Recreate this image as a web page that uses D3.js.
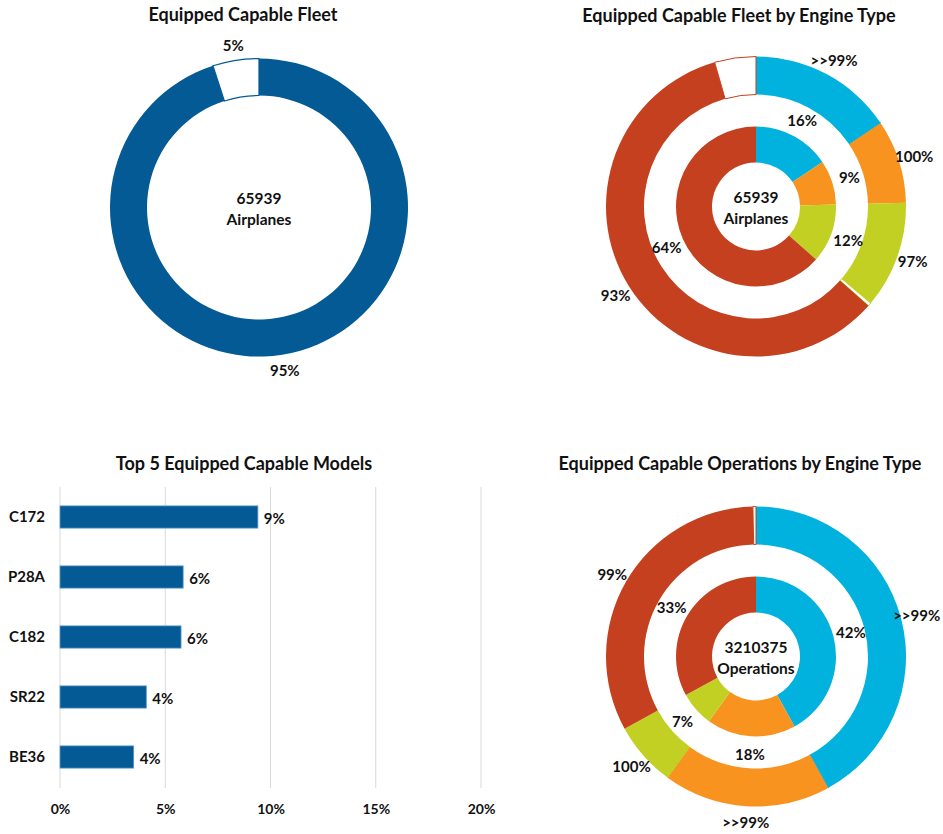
<!DOCTYPE html>
<html><head><meta charset="utf-8">
<script src="https://cdn.jsdelivr.net/npm/d3@7"></script>
<style>
html,body{margin:0;padding:0;background:#fff;}
svg{display:block;font-family:Lato,"Open Sans",sans-serif;font-weight:bold;}
</style></head>
<body>
<svg id="chart" width="943" height="834"></svg>
<script>
// ---- data ----
const fleetTotal = 65939;
const fleetCategories = ["Equipped", "Not equipped"];
const fleetShares = [95, 5];

const engineTypes = ["Type A", "Type B", "Type C", "Type D"];
const engineColors = ["#00b2dd", "#f7931e", "#c2d024", "#c5401e"];

const fleetTypeShares = [15.6, 9.0, 11.9, 63.5];
const fleetTypeEquipped = [99.9, 100, 97, 93];
const fleetTypeEquippedLabels = [">>99%", "100%", "97%", "93%"];

const opsTotal = 3210375;
const opsTypeShares = [42, 18, 7, 33];
const opsTypeEquipped = [99.9, 99.9, 100, 99];
const opsTypeEquippedLabels = [">>99%", ">>99%", "100%", "99%"];

const models = ["C172", "P28A", "C182", "SR22", "BE36"];
const modelShares = [9.4, 5.85, 5.75, 4.1, 3.5];
const modelTicks = [0, 0.05, 0.10, 0.15, 0.20];

// ---- drawing ----
const svg = d3.select("#chart");
const BLUE = "#035a94";

function title(x, y, t) {
  svg.append("text").attr("x", x).attr("y", y).attr("text-anchor", "middle")
    .attr("dominant-baseline", "central").attr("font-size", 18).attr("fill", "#111").text(t);
}
function label(g, x, y, t, size) {
  g.append("text").attr("x", x).attr("y", y).attr("text-anchor", "middle")
    .attr("dominant-baseline", "central").attr("font-size", size || 15).attr("fill", "#111").text(t);
}
function centerText(g, l1, l2) {
  label(g, 0, -10, l1, 15.5);
  label(g, 0, 11, l2, 15.5);
}
const pie = d3.pie().sort(null).value(d => d.v);
function polar(a, r) { return [Math.sin(a) * r, -Math.cos(a) * r]; }

// Panel 1
(function () {
  const g = svg.append("g").attr("transform", "translate(259,207.5)");
  const arc = d3.arc().innerRadius(112).outerRadius(149);
  const arcs = pie(fleetCategories.map((c, i) => ({ c, v: fleetShares[i], i })));
  g.selectAll("path").data(arcs).join("path").attr("d", arc)
    .attr("fill", d => d.data.i === 0 ? BLUE : "#fff")
    .attr("stroke", BLUE).attr("stroke-width", d => d.data.i === 0 ? 0 : 1.2);
  arcs.forEach(d => {
    const p = polar((d.startAngle + d.endAngle) / 2, 165);
    label(g, p[0], p[1], d.data.v + "%");
  });
  centerText(g, String(fleetTotal), "Airplanes");
  title(243, 14, "Equipped Capable Fleet");
})();

function nested(cx, cy, shares, equipped, eqLabels, total, unit) {
  const g = svg.append("g").attr("transform", `translate(${cx},${cy})`);
  const inner = d3.arc().innerRadius(44).outerRadius(80);
  const outer = d3.arc().innerRadius(112).outerRadius(150);
  const inArcs = pie(engineTypes.map((t, i) => ({ t, v: shares[i], i })));
  g.append("g").selectAll("path").data(inArcs).join("path").attr("d", inner)
    .attr("fill", d => engineColors[d.data.i]);
  const outData = [];
  engineTypes.forEach((t, i) => {
    outData.push({ t, i, eq: true, v: shares[i] * equipped[i] / 100 });
    outData.push({ t, i, eq: false, v: shares[i] * (100 - equipped[i]) / 100 });
  });
  const outArcs = pie(outData);
  g.append("g").selectAll("path").data(outArcs.filter(d => d.data.v > 0)).join("path").attr("d", outer)
    .attr("fill", d => d.data.eq ? engineColors[d.data.i] : "#fff")
    .attr("stroke", d => d.data.eq ? "none" : engineColors[d.data.i])
    .attr("stroke-width", 1);
  inArcs.forEach(d => {
    const p = polar((d.startAngle + d.endAngle) / 2, 98);
    label(g, p[0], p[1], Math.round(d.data.v) + "%");
  });
  outArcs.filter(d => d.data.eq).forEach(d => {
    const p = polar((d.startAngle + d.endAngle) / 2, 166);
    label(g, p[0], p[1], eqLabels[d.data.i]);
  });
  centerText(g, String(total), unit);
}

nested(756, 206.5, fleetTypeShares, fleetTypeEquipped, fleetTypeEquippedLabels, fleetTotal, "Airplanes");
title(739, 15, "Equipped Capable Fleet by Engine Type");

nested(756, 656.5, opsTypeShares, opsTypeEquipped, opsTypeEquippedLabels, opsTotal, "Operations");
title(740, 463, "Equipped Capable Operations by Engine Type");

// Panel 3: bars
(function () {
  title(244, 463, "Top 5 Equipped Capable Models");
  const x = d3.scaleLinear().domain([0, 0.20]).range([60, 481]);
  const y = d3.scaleBand().domain(models).range([487, 787]).paddingInner(0.63).paddingOuter(0.315);
  const g = svg.append("g");
  g.selectAll("line.grid").data(modelTicks).join("line").attr("class", "grid")
    .attr("x1", d => x(d)).attr("x2", d => x(d)).attr("y1", 487).attr("y2", 788)
    .attr("stroke", "#d9d9d9").attr("stroke-width", 1);
  const axis = d3.axisBottom(x).tickValues(modelTicks).tickFormat(d3.format(".0%")).tickSize(0).tickPadding(0);
  const ax = g.append("g").attr("transform", "translate(0,808)").call(axis);
  ax.select(".domain").remove();
  ax.selectAll("text").attr("font-size", 14).attr("font-family", "Lato,'Open Sans',sans-serif")
    .attr("font-weight", "bold").attr("fill", "#111").attr("dy", null).attr("dominant-baseline", "central");
  const yAxis = d3.axisLeft(y).tickSize(0).tickPadding(0);
  const ay = g.append("g").attr("transform", "translate(45,0)").call(yAxis);
  ay.select(".domain").remove();
  ay.selectAll("text").attr("font-size", 15).attr("font-family", "Lato,'Open Sans',sans-serif")
    .attr("font-weight", "bold").attr("fill", "#111");
  const data = models.map((m, i) => ({ m, v: modelShares[i] / 100 }));
  g.selectAll("rect").data(data).join("rect")
    .attr("x", x(0)).attr("y", d => y(d.m)).attr("width", d => x(d.v) - x(0)).attr("height", y.bandwidth())
    .attr("fill", BLUE).attr("stroke", "#5a98cc").attr("stroke-width", 0.8);
  g.selectAll("text.val").data(data).join("text").attr("class", "val")
    .attr("x", d => x(d.v) + 6).attr("y", d => y(d.m) + y.bandwidth() / 2 + 1)
    .attr("dominant-baseline", "central").attr("font-size", 15).attr("fill", "#111")
    .text(d => Math.round(d.v * 100) + "%");
})();
</script>
</body></html>
